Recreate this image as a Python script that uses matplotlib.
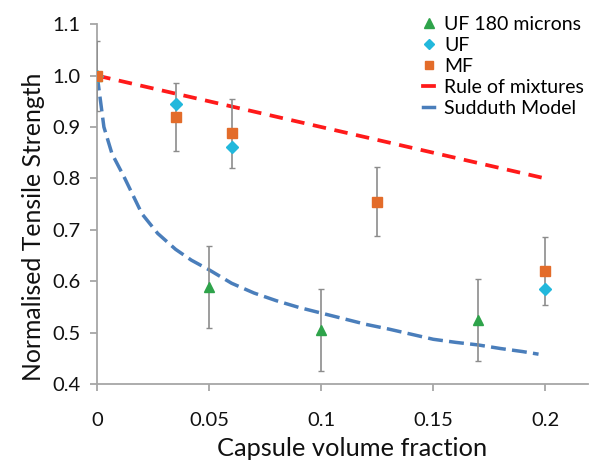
import matplotlib
matplotlib.use("Agg")
import matplotlib.pyplot as plt
from matplotlib.lines import Line2D

plt.rcParams['font.family'] = ['Lato', 'DejaVu Sans']

# UF 180 microns (green triangles), with error bars
uf180_x = [0.0, 0.05, 0.1, 0.17]
uf180_y = [1.0, 0.588, 0.505, 0.524]
uf180_err = [0.068, 0.08, 0.08, 0.08]

# UF (cyan diamonds)
uf_x = [0.0, 0.035, 0.06, 0.2]
uf_y = [1.0, 0.945, 0.862, 0.584]

# MF (orange squares), with error bars
mf_x = [0.0, 0.035, 0.06, 0.125, 0.2]
mf_y = [1.0, 0.92, 0.888, 0.755, 0.62]
mf_err = [0.068, 0.066, 0.067, 0.068, 0.066]

# rule of mixtures
rom_x = [0.0, 0.2]
rom_y = [1.0, 0.8]

# Sudduth model
sud_x = [0, 0.003, 0.0066, 0.012, 0.02, 0.027, 0.035, 0.042, 0.05, 0.06, 0.07,
         0.08, 0.09, 0.1, 0.11, 0.12, 0.13, 0.14, 0.15, 0.16, 0.17, 0.18, 0.19, 0.197]
sud_y = [1.0, 0.9, 0.848, 0.803, 0.731, 0.693, 0.662, 0.641, 0.622, 0.596, 0.577,
         0.562, 0.549, 0.538, 0.527, 0.516, 0.507, 0.497, 0.487, 0.481, 0.476, 0.469, 0.463, 0.458]

xticks = [0, 0.05, 0.1, 0.15, 0.2]
xticklabels = ['0', '0.05', '0.1', '0.15', '0.2']
yticks = [0.4, 0.5, 0.6, 0.7, 0.8, 0.9, 1.0, 1.1]
yticklabels = ['0.4', '0.5', '0.6', '0.7', '0.8', '0.9', '1.0', '1.1']

green = '#2ea34a'
cyan = '#22b8dc'
orange = '#e36c2a'
red = '#ff1a1a'
blue = '#4a7ebb'
grey = '#8c8c8c'
text_col = '#111111'

fig = plt.figure(figsize=(5.89, 4.66), dpi=100)
ax = fig.add_axes([0.165, 0.176, 0.833, 0.772])

# lines
ax.plot(rom_x, rom_y, color=red, lw=2.7, dashes=(3.6, 2.3), zorder=2)
ax.plot(sud_x, sud_y, color=blue, lw=2.5, dashes=(4.3, 1.8), zorder=2)

# error bars
ax.errorbar(mf_x, mf_y, yerr=mf_err, fmt='none', ecolor=grey, elinewidth=1.2,
            capsize=2.2, capthick=1, zorder=3)
ax.errorbar(uf180_x[1:], uf180_y[1:], yerr=uf180_err[1:], fmt='none', ecolor=grey,
            elinewidth=1.2, capsize=2.2, capthick=1, zorder=3)

# markers
ax.plot(uf180_x, uf180_y, linestyle='none', marker='^', ms=7.5, color=green, zorder=4)
ax.plot(uf_x, uf_y, linestyle='none', marker='D', ms=6, color=cyan, zorder=4)
ax.plot(mf_x, mf_y, linestyle='none', marker='s', ms=6.5, color=orange, zorder=5)

ax.set_xlim(0, 0.219)
ax.set_ylim(0.4, 1.1)
ax.set_xticks(xticks)
ax.set_xticklabels(xticklabels)
ax.set_yticks(yticks)
ax.set_yticklabels(yticklabels)

for s in ['top', 'right']:
    ax.spines[s].set_visible(False)
for s in ['left', 'bottom']:
    ax.spines[s].set_color('#a6a6a6')
    ax.spines[s].set_linewidth(1.3)

ax.tick_params(axis='both', colors='#a6a6a6', labelcolor=text_col, labelsize=14.5,
               length=5, width=1.3, direction='out')
ax.tick_params(axis='x', pad=15)
ax.tick_params(axis='y', pad=7)

ax.set_xlabel('Capsule volume fraction', fontsize=18.3, color=text_col,
              labelpad=6, x=0.52)
ax.set_ylabel('Normalised Tensile Strength', fontsize=17.8, color=text_col,
              labelpad=5, y=0.436)

handles = [
    Line2D([], [], linestyle='none', marker='^', ms=6.5, color=green),
    Line2D([], [], linestyle='none', marker='D', ms=5, color=cyan),
    Line2D([], [], linestyle='none', marker='s', ms=5.5, color=orange),
    Line2D([], [], color=red, lw=2.7),
    Line2D([], [], color=blue, lw=2.5),
]
labels = ['UF 180 microns', 'UF', 'MF', 'Rule of mixtures', 'Sudduth Model']
ax.legend(handles, labels, loc='upper right', bbox_to_anchor=(1.012, 1.05),
          frameon=False, fontsize=14, handlelength=0.6, handletextpad=0.5,
          labelspacing=0.2, borderaxespad=0.1)

fig.savefig('out.png', dpi=100)
